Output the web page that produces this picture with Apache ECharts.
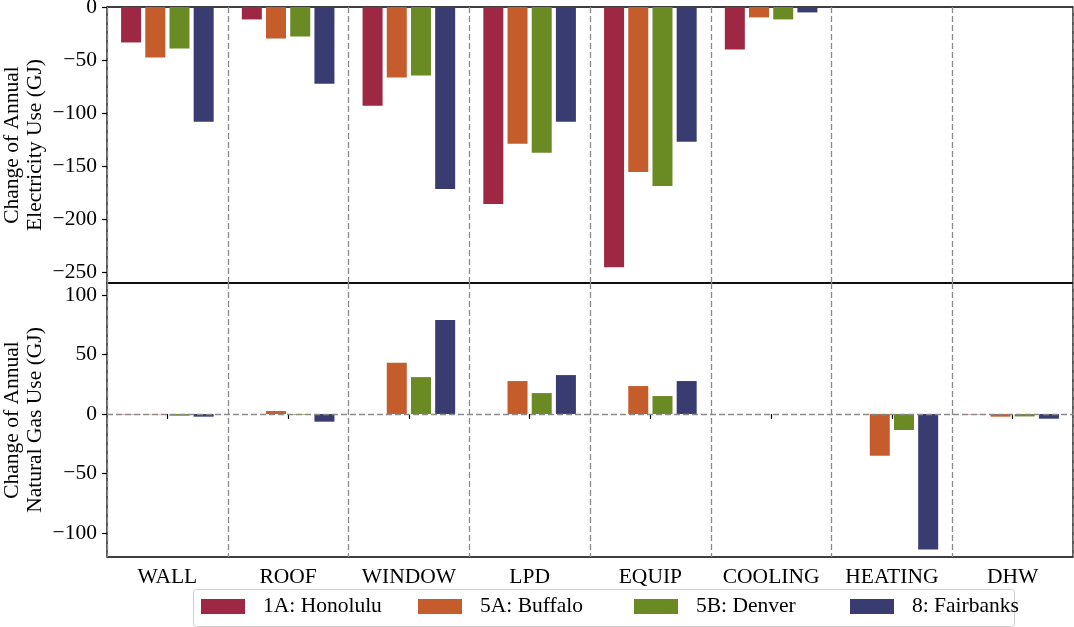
<!DOCTYPE html>
<html>
<head>
<meta charset="utf-8">
<script src="https://cdn.jsdelivr.net/npm/echarts@6/dist/echarts.min.js"></script>
<style>
html,body{margin:0;padding:0;background:#fff;}
#chart{width:1074px;height:627px;}
</style>
</head>
<body>
<div id="chart"></div>
<script>
const categories = ['WALL', 'ROOF', 'WINDOW', 'LPD', 'EQUIP', 'COOLING', 'HEATING', 'DHW'];
const seriesNames = ['1A: Honolulu', '5A: Buffalo', '5B: Denver', '8: Fairbanks'];
const colors = ['#9e2743', '#c45c2b', '#6a8a23', '#383c70'];

const elecHonolulu  = [-33.4, -11.7, -93.0, -185.6, -245.2, -40.1, 0, 0];
const elecBuffalo   = [-47.6, -29.7, -66.5, -128.9, -155.4, -9.8, 0, 0];
const elecDenver    = [-39.1, -27.8, -64.6, -137.4, -168.6, -11.7, 0, 0];
const elecFairbanks = [-108.1, -72.2, -171.4, -108.1, -127.0, -5.1, 0, 0];

const gasHonolulu  = [-0.3, 0, 0, 0, 0, 0, 0, -0.3];
const gasBuffalo   = [-0.3, 2.5, 43.0, 27.7, 23.5, 0, -35.0, -2.2];
const gasDenver    = [-1.4, -0.5, 31.0, 17.6, 15.1, 0, -13.4, -2.0];
const gasFairbanks = [-2.2, -6.4, 78.9, 32.7, 27.7, 0, -113.8, -3.9];

const elecTicks = [-250, -200, -150, -100, -50, 0];
const gasTicks = [-100, -50, 0, 50, 100];
const elecRange = [-260, 0];
const gasRange = [-120, 110];

const elecData = [elecHonolulu, elecBuffalo, elecDenver, elecFairbanks];
const gasData = [gasHonolulu, gasBuffalo, gasDenver, gasFairbanks];

const FONT = '"Liberation Serif", "Times New Roman", serif';
const FS = 21.5;
const fmt = v => (v < 0 ? '\u2212' + Math.abs(v) : String(v));
const dashStyle = { color: '#8a8a8a', width: 1.3, type: [6, 3] };

const chart = echarts.init(document.getElementById('chart'), null, { renderer: 'canvas' });

const series = [];
seriesNames.forEach((name, i) => {
  series.push({
    name: name, type: 'bar', xAxisIndex: 0, yAxisIndex: 0,
    data: elecData[i], barWidth: 20, barGap: '21%',
    itemStyle: { color: colors[i] }
  });
});
seriesNames.forEach((name, i) => {
  const s = {
    name: name, type: 'bar', xAxisIndex: 1, yAxisIndex: 1,
    data: gasData[i], barWidth: 20, barGap: '21%',
    itemStyle: { color: colors[i] }
  };
  if (i === 0) {
    s.markLine = {
      silent: true, symbol: ['none', 'none'], label: { show: false },
      lineStyle: dashStyle, data: [{ yAxis: 0 }]
    };
  }
  series.push(s);
});

const yAxisCommon = (range, ticks, name) => ({
  type: 'value', min: range[0], max: range[1],
  name: name, nameLocation: 'middle', nameGap: 60, nameRotate: 90, nameMoveOverlap: false,
  nameTextStyle: { fontFamily: FONT, fontSize: FS, color: '#000', lineHeight: 23 },
  axisLine: { show: false },
  axisTick: { show: true, inside: false, length: 5, customValues: ticks, lineStyle: { color: '#000', width: 1.2 } },
  axisLabel: { customValues: ticks, formatter: fmt, margin: 10, fontFamily: FONT, fontSize: FS, color: '#000' },
  splitLine: { show: false }
});

// one legend component per entry, laid out in equal-width columns like the reference
const legendLefts = [201, 418, 634, 850];
const legends = seriesNames.map((name, i) => ({
  data: [name], left: legendLefts[i], top: 594.5, orient: 'horizontal',
  itemWidth: 44, itemHeight: 15, padding: 0, icon: 'rect',
  textStyle: { fontFamily: FONT, fontSize: FS, color: '#000', lineHeight: 24, padding: [0, 0, 0, 13] }
}));

chart.setOption({
  animation: false,
  backgroundColor: '#fff',
  textStyle: { fontFamily: FONT },
  grid: [
    { left: 107, right: 1, top: 7, height: 276, show: true, borderColor: '#000', borderWidth: 1.3, backgroundColor: 'transparent', containLabel: false, outerBoundsMode: 'none' },
    { left: 107, right: 1, top: 283, height: 274, show: true, borderColor: '#000', borderWidth: 1.3, backgroundColor: 'transparent', containLabel: false, outerBoundsMode: 'none' }
  ],
  graphic: [{
    type: 'rect', silent: true, z: 0,
    shape: { x: 193.5, y: 589.5, width: 821, height: 37, r: 3 },
    style: { fill: '#fff', stroke: '#d0d0d0', lineWidth: 1 }
  }],
  legend: legends,
  xAxis: [
    {
      type: 'category', gridIndex: 0, data: categories, boundaryGap: true,
      axisLine: { show: false }, axisTick: { show: false }, axisLabel: { show: false },
      splitLine: { show: true, interval: 0, lineStyle: dashStyle }
    },
    {
      type: 'category', gridIndex: 1, data: categories, boundaryGap: true,
      axisLine: { show: false },
      axisTick: { show: true, alignWithLabel: true, interval: 0, length: 5, lineStyle: { color: '#000', width: 1.2 } },
      axisLabel: { interval: 0, margin: 9, fontFamily: FONT, fontSize: FS, color: '#000' },
      splitLine: { show: true, interval: 0, lineStyle: dashStyle }
    }
  ],
  yAxis: [
    Object.assign({ gridIndex: 0 }, yAxisCommon(elecRange, elecTicks, 'Change of Annual\nElectricity Use (GJ)')),
    Object.assign({ gridIndex: 1 }, yAxisCommon(gasRange, gasTicks, 'Change of Annual\nNatural Gas Use (GJ)'))
  ],
  series: series
});
</script>
</body>
</html>
